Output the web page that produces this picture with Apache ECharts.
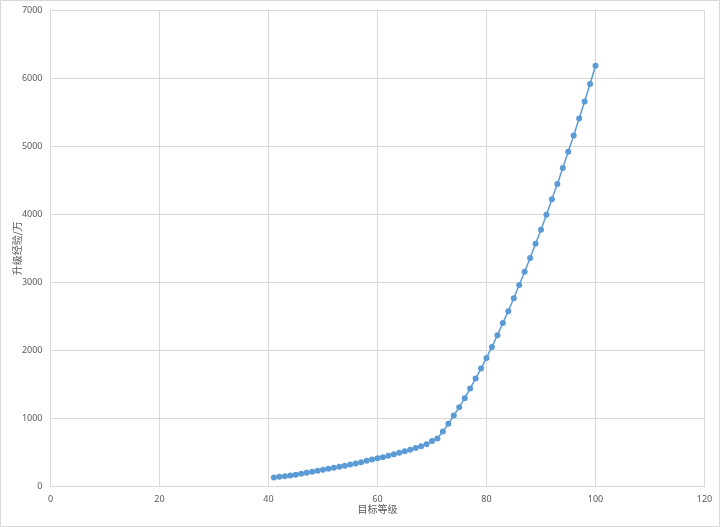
<!DOCTYPE html>
<html>
<head>
<meta charset="utf-8">
<script src="https://cdn.jsdelivr.net/npm/echarts@6/dist/echarts.min.js"></script>
<style>
html,body{margin:0;padding:0;background:#fff;}
#chart{width:720px;height:527px;}
</style>
</head>
<body>
<div id="chart"></div>
<script>
const levels = [41,42,43,44,45,46,47,48,49,50,51,52,53,54,55,56,57,58,59,60,61,62,63,64,65,66,67,68,69,70,71,72,73,74,75,76,77,78,79,80,81,82,83,84,85,86,87,88,89,90,91,92,93,94,95,96,97,98,99,100];
const expValues = [133,142,152,162,172,186,201,216,230,245,260,275,289,304,323,338,357,377,396,415,431,450,472,494,517,541,566,592,621,668,705,807,920,1042,1165,1297,1439,1586,1732,1889,2051,2222,2403,2575,2765,2961,3156,3357,3567,3773,3993,4219,4443,4678,4918,5157,5407,5657,5912,6181];
const xAxisTitle = '目标等级';
const yAxisTitle = '升级经验/万';

const chart = echarts.init(document.getElementById('chart'));
const labelFont = {color:'#595959', fontSize:9, fontFamily:'Noto Sans'};
chart.setOption({
  animation:false,
  backgroundColor:'#fff',
  graphic:[{type:'rect', shape:{x:0.5,y:0.5,width:719,height:526}, style:{fill:'none', stroke:'#d9d9d9', lineWidth:1}, silent:true}],
  grid:{left:50.5, right:15.5, top:10, bottom:40.5, containLabel:false, outerBoundsMode:'none'},
  xAxis:{
    type:'value', min:0, max:120, interval:20,
    name:xAxisTitle, nameLocation:'middle', nameGap:18, nameMoveOverlap:false,
    nameTextStyle:{color:'#595959', fontSize:10, fontFamily:'Noto Sans CJK SC'},
    axisLine:{show:true, lineStyle:{color:'#d9d9d9'}},
    axisTick:{show:false},
    axisLabel:Object.assign({margin:8, formatter:v=>String(v)}, labelFont),
    splitLine:{show:true, lineStyle:{color:'#d9d9d9', width:1}}
  },
  yAxis:{
    type:'value', min:0, max:7000, interval:1000,
    name:yAxisTitle, nameLocation:'middle', nameGap:28, nameMoveOverlap:false,
    nameTextStyle:{color:'#595959', fontSize:10, fontFamily:'Noto Sans CJK SC'},
    axisLine:{show:true, lineStyle:{color:'#d9d9d9'}},
    axisTick:{show:false},
    axisLabel:Object.assign({margin:8, formatter:v=>String(v)}, labelFont),
    splitLine:{show:true, lineStyle:{color:'#d9d9d9', width:1}}
  },
  series:[{
    type:'line',
    data: levels.map((l,i)=>[l, expValues[i]]),
    symbol:'circle', symbolSize:6,
    lineStyle:{color:'#5b9bd5', width:1.5},
    itemStyle:{color:'#5b9bd5'}
  }]
});
</script>
</body>
</html>
